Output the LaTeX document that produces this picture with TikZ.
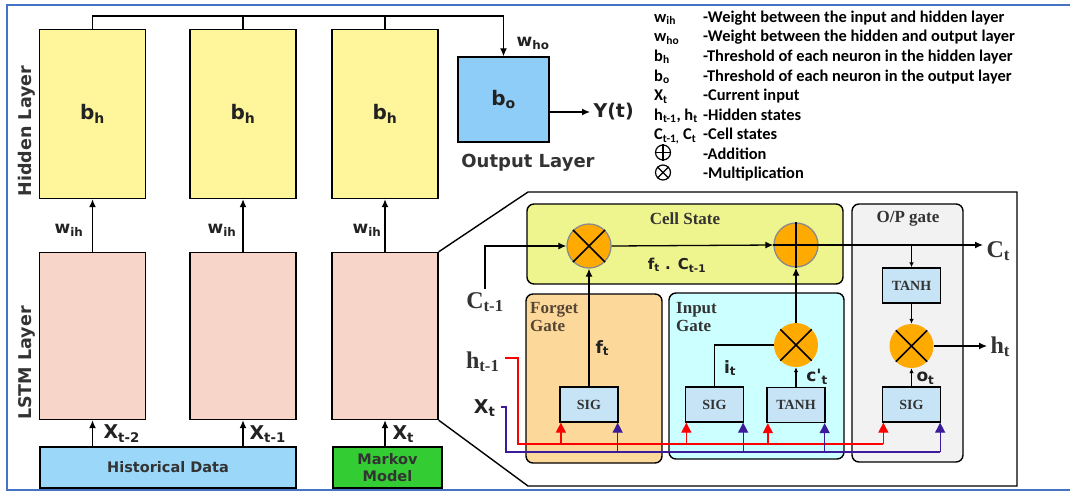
\documentclass[tikz,border=0pt]{standalone}
\usepackage{fontspec}
\setmainfont{Liberation Serif}
\newfontfamily\dvs{DejaVu Sans}
\newfontfamily\carl{Carlito}
\usetikzlibrary{arrows.meta,calc}
\newcommand\sansb[1]{\dvs\bfseries\fontsize{#1}{\dimexpr #1pt*6/5\relax}\selectfont}
\newcommand\serb[1]{\rmfamily\bfseries\fontsize{#1}{\dimexpr #1pt*6/5\relax}\selectfont}
\newcommand\calb[1]{\carl\bfseries\fontsize{#1}{\dimexpr #1pt*6/5\relax}\selectfont}
\definecolor{hidY}{HTML}{FFF59A}
\definecolor{lstmP}{HTML}{F8D5C9}
\definecolor{outB}{HTML}{8FCDF9}
\definecolor{histB}{HTML}{9BD7F9}
\definecolor{mkG}{HTML}{33CC33}
\definecolor{csY}{HTML}{EFF58E}
\definecolor{fgO}{HTML}{FCD99A}
\definecolor{igC}{HTML}{CCFFFF}
\definecolor{ogG}{HTML}{F2F2F2}
\definecolor{fnB}{HTML}{C6E4F6}
\definecolor{circO}{HTML}{FFAA00}
\definecolor{circB}{HTML}{8A8A8A}
\definecolor{redL}{HTML}{FF0000}
\definecolor{purL}{HTML}{3B1B9C}
\definecolor{bordB}{HTML}{4472C4}
\definecolor{txtD}{HTML}{222222}
\definecolor{txtG}{HTML}{333333}
\definecolor{fgT}{HTML}{574636}
\begin{document}
\begin{tikzpicture}[x=1pt,y=-1pt,
  bx/.style={draw, line width=1.4pt, inner sep=0pt},
  hid/.style={bx, fill=hidY, minimum width=106, minimum height=169, font=\sansb{20}, text=txtD},
  lstm/.style={bx, fill=lstmP, minimum width=106, minimum height=167},
  gatebox/.style={draw, line width=1.4pt, rounded corners=7pt, inner sep=0pt},
  fn/.style={bx, line width=1.3pt, fill=fnB, minimum width=58, minimum height=35, font=\serb{14}, text=txtG},
  mul/.style={circle, fill=circO, minimum size=44, inner sep=0pt},
  conn/.style={line width=1.3pt},
  arr/.style={conn, -{Latex[length=8pt,width=7pt]}},
  sarr/.style={conn, -{Latex[length=5pt,width=4.5pt]}},
  carr/.style={line width=1.3pt, -{Triangle[length=10pt,width=10pt]}},
  lab/.style={font=\sansb{19}, text=txtD},
  slab/.style={font=\sansb{17}, text=txtD},
  serlab/.style={font=\serb{24}, text=txtG},
  legtxt/.style={anchor=base west, font=\calb{16.4}, text=black, inner sep=0pt},
]
\useasboundingbox (0,0) rectangle (1070,493);
\fill[white] (0,0) rectangle (1070,493);
\draw[draw=bordB, line width=1.5pt] (7,5) rectangle (1085,490);

% hidden layer
\node[hid] (h1) at (92.5,114) {b\textsubscript{h}};
\node[hid] (h2) at (243,114) {b\textsubscript{h}};
\node[hid] (h3) at (385,114) {b\textsubscript{h}};
% lstm layer
\node[lstm] (l1) at (92.5,336) {};
\node[lstm] (l2) at (243,336) {};
\node[lstm] (l3) at (385,336) {};
% output
\node[bx, fill=outB, minimum width=91, minimum height=85, font=\sansb{20}, text=txtD] (out) at (503.5,99.5) {b\textsubscript{o}};
\node[anchor=west, font=\sansb{19}, text=txtD] (yt) at (590,112) {Y(t)};
\node[font=\sansb{17}, text=txtD] (who) at (533,43) {w\textsubscript{ho}};
\node[font=\sansb{18}, text=txtG] (ol) at (528,163) {Output Layer};
\node[rotate=90, font=\sansb{17.5}, text=txtG] (hl) at (27,131) {Hidden Layer};
\node[rotate=90, font=\sansb{17.5}, text=txtG] (ll) at (27,363) {LSTM Layer};

% bus to output
\coordinate (bus) at (503.5,16);
\draw[conn] (h1.north) |- (bus);
\draw[conn] (h2.north) -- (h2.north |- bus);
\draw[conn] (h3.north) -- (h3.north |- bus);
\draw[arr] (bus) -- (out.north);
\draw[arr] (out.east |- yt) -- (yt.west);

% lstm -> hidden
\draw[arr] (l1.north) -- (h1.south);
\draw[arr] (l2.north) -- (h2.south);
\draw[arr] (l3.north) -- (h3.south);
\node[slab] (w1) at (69,230) {w\textsubscript{ih}};
\node[slab] (w2) at (222,230) {w\textsubscript{ih}};
\node[slab] (w3) at (367,230) {w\textsubscript{ih}};

% inputs
\node[bx, fill=histB, minimum width=256, minimum height=41, font=\sansb{14.5}, text=txtG] (hist) at (168,467.5) {Historical Data};
\node[bx, fill=mkG, minimum width=109, minimum height=41, font=\sansb{14.5}, text=txtG, align=center] (mk) at (387.5,467.5) {Markov\\[-1pt]Model};
\draw[arr] (hist.north -| l1) -- (l1.south);
\draw[arr] (hist.north -| l2) -- (l2.south);
\draw[arr] (mk.north -| l3) -- (l3.south);
\node[lab, anchor=west] (x2) at (100,434) {X\textsubscript{t-2}};
\node[lab, anchor=west] (x1) at (246,434) {X\textsubscript{t-1}};
\node[lab, anchor=west] (x0) at (389,434) {X\textsubscript{t}};

% callout frame
\coordinate (fa) at (528,192);
\coordinate (fb) at (1017,192);
\coordinate (fc) at (1017,486);
\coordinate (fd) at (528,486);
\draw[line width=1.4pt] (l3.north east) -- (fa) -- (fb) -- (fc) -- (fd) -- (l3.south east);

% gate boxes
\node[gatebox, fill=csY, minimum width=316, minimum height=80] (cs) at (685,244) {};
\node[font=\serb{17}, text=txtG] (cst) at (685,219) {Cell State};
\node[gatebox, fill=fgO, minimum width=136, minimum height=169] (fg) at (594,378.5) {};
\node[font=\serb{17}, text=fgT, anchor=north west, align=left, inner sep=0pt] (fgt) at (530,302) {Forget\\[-2pt]Gate};
\node[gatebox, fill=igC, minimum width=175, minimum height=166] (ig) at (756.5,376) {};
\node[font=\serb{17}, text=txtG, anchor=north west, align=left, inner sep=0pt] (igt) at (676,302) {Input\\[-2pt]Gate};
\node[gatebox, fill=ogG, minimum width=111, minimum height=258] (og) at (907.5,333) {};
\node[font=\serb{17}, text=txtG] (ogt) at (908,219) {O/P gate};

% function boxes
\node[fn] (sg1) at (589,404.5) {SIG};
\node[fn] (sg2) at (714.5,404.5) {SIG};
\node[fn] (th1) at (796,405) {TANH};
\node[fn] (sg3) at (911.5,404.5) {SIG};
\node[fn] (th2) at (911.5,285.5) {TANH};

% operators
\node[mul, draw=circB, line width=1.3pt] (m1) at (589,246) {};
\node[mul, draw=circB, line width=1.3pt] (p1) at (796,245) {};
\node[mul] (m2) at (796,345) {};
\node[mul] (m3) at (911.5,346) {};
\draw[line width=1.5pt] (m1.north east) -- (m1.south west) (m1.north west) -- (m1.south east);
\draw[line width=1.5pt] (m2.north east) -- (m2.south west) (m2.north west) -- (m2.south east);
\draw[line width=1.5pt] (m3.north east) -- (m3.south west) (m3.north west) -- (m3.south east);
\draw[line width=1.5pt] (p1.north) -- (p1.south) (p1.west) -- (p1.east);

% labels of states
\node[serlab, anchor=base] (ct1) at (485,308) {C\textsubscript{t-1}};
\node[serlab, anchor=base west] (ct) at (983,257) {C\textsubscript{t}};
\node[serlab, anchor=base west] (ht) at (987,353) {h\textsubscript{t}};
\node[serlab, anchor=base east] (hp) at (503,368) {h\textsubscript{t-1}};
\node[lab, anchor=base east] (xt) at (499,413) {X\textsubscript{t}};
\node[font=\sansb{15}, text=txtD] (fc1) at (677,265) {f\textsubscript{t} . C\textsubscript{t-1}};

% cell connectors
\draw[arr] (ct1.north) |- (m1.west);
\draw[arr] (m1.east) -- (p1.west);
\draw[arr] (p1.east) -- (p1.east -| ct.west);
\draw[sarr] (th2.north |- p1.east) -- (th2.north);
\draw[sarr] (th2.south) -- (m3.north);
\draw[sarr] (sg3.north) -- (m3.south);
\draw[arr] (m3.east) -- (m3.east -| ht.west);
\draw[arr] (sg1.north) -- (m1.south);
\draw[conn] (sg2.north) |- (m2.west);
\draw[sarr] (th1.north) -- (m2.south);
\draw[arr] (m2.north) -- (p1.south);
\node[slab, anchor=west] (ftl) at (592,348) {f\textsubscript{t}};
\node[slab] (itl) at (730,368) {i\textsubscript{t}};
\node[slab] (cpl) at (817,377) {c'\textsubscript{t}};
\node[slab, anchor=west] (otl) at (913,378) {o\textsubscript{t}};

% red and purple buses
\coordinate (hs) at (505,358);
\coordinate (rb) at (518,444);
\draw[conn, draw=redL] (hs) -| (rb) -- ([xshift=1pt]sg3.south west |- rb);
\foreach \b in {sg1,sg2,th1,sg3}
  \draw[carr, draw=redL, fill=redL] ([xshift=1.5pt]\b.south west |- rb) -- ([xshift=1.5pt]\b.south west);
\coordinate (xs) at (501,407);
\coordinate (pb) at (506,452);
\draw[conn, draw=purL] (xs) -| (pb) -- ([xshift=-1pt]sg3.south east |- pb);
\foreach \b in {sg1,sg2,th1,sg3}
  \draw[carr, draw=purL, fill=purL] ([xshift=-1pt]\b.south east |- pb) -- ([xshift=-1pt]\b.south east);

% legend
\node[legtxt] (ls1) at (654,22) {w\textsubscript{ih}};
\node[legtxt] (ls2) at (654,41.5) {w\textsubscript{ho}};
\node[legtxt] (ls3) at (654,61) {b\textsubscript{h}};
\node[legtxt] (ls4) at (654,81) {b\textsubscript{o}};
\node[legtxt] (ls5) at (654,100.5) {X\textsubscript{t}};
\node[legtxt] (ls6) at (654,120) {h\textsubscript{t-1}, h\textsubscript{t}};
\node[legtxt] (ls7) at (654,139.5) {C\textsubscript{t-1,} C\textsubscript{t}};
\node[circle, draw, line width=1.2pt, minimum size=15, inner sep=0pt] (ls8) at (663,152.5) {};
\draw[line width=1.2pt] (ls8.north) -- (ls8.south) (ls8.west) -- (ls8.east);
\node[circle, draw, line width=1.2pt, minimum size=15, inner sep=0pt] (ls9) at (663,172.5) {};
\draw[line width=1.2pt] (ls9.north east) -- (ls9.south west) (ls9.north west) -- (ls9.south east);
\node[legtxt] (lt1) at (703,22) {-Weight between the input and hidden layer};
\node[legtxt] (lt2) at (703,41.5) {-Weight between the hidden and output layer};
\node[legtxt] (lt3) at (703,61) {-Threshold of each neuron in the hidden layer};
\node[legtxt] (lt4) at (703,81) {-Threshold of each neuron in the output layer};
\node[legtxt] (lt5) at (703,100.5) {-Current input};
\node[legtxt] (lt6) at (703,120) {-Hidden states};
\node[legtxt] (lt7) at (703,139.5) {-Cell states};
\node[legtxt] (lt8) at (703,159) {-Addition};
\node[legtxt] (lt9) at (703,178.5) {-Multiplication};
\end{tikzpicture}
\end{document}
